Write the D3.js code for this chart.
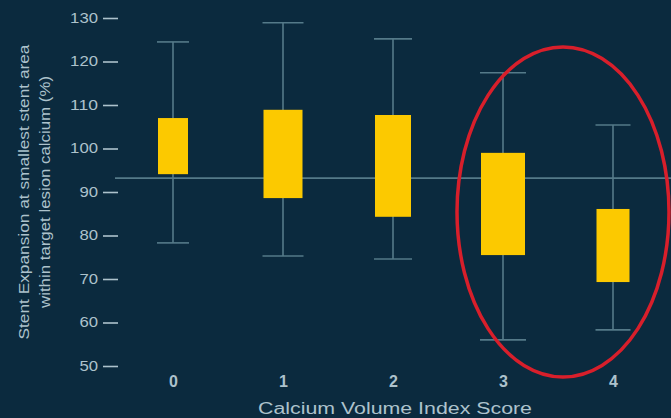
<!DOCTYPE html>
<html>
<head>
<meta charset="utf-8">
<script src="https://cdn.jsdelivr.net/npm/d3@7"></script>
<style>
  html, body { margin: 0; padding: 0; background: #0b2a3e; }
  svg { display: block; }
  text { font-family: "Liberation Sans", Arial, sans-serif; }
</style>
</head>
<body>
<svg id="chart" width="671" height="418"></svg>
<script>
// Calcium volume index score groups
const scores = ["0", "1", "2", "3", "4"];
// Box-and-whisker summary per score (% stent expansion)
const whiskerHigh = [124.5, 128.9, 125.2, 117.4, 105.4];
const boxHigh     = [107.0, 108.9, 107.7, 99.0, 86.1];
const boxLow      = [94.1, 88.6, 84.3, 75.5, 69.3];
const whiskerLow  = [78.3, 75.3, 74.6, 56.0, 58.3];
// Overall reference level
const referenceLevel = 93.2;
const yTicks = [50, 60, 70, 80, 90, 100, 110, 120, 130];

// Layout / styling
const W = 671, H = 418;
const boxWidth = [30, 39, 36, 44, 33];
const bg = "#0b2a3e";
const lineColor = "#557a89";
const textColor = "#adc2cc";
const boxColor = "#fcc900";

const svg = d3.select("#chart");
svg.append("rect").attr("width", W).attr("height", H).attr("fill", bg);

const x = d3.scalePoint().domain(scores).range([173, 613]);
const y = d3.scaleLinear().domain([50, 130]).range([366, 18]);

// Y axis: ticks with short dashes, no domain line
const yAxis = d3.axisLeft(y).tickValues(yTicks).tickSize(15).tickPadding(5);
const gy = svg.append("g").attr("transform", "translate(118,0)").call(yAxis);
gy.select(".domain").remove();
gy.selectAll(".tick line").attr("stroke", textColor).attr("stroke-width", 1.6);
gy.selectAll(".tick text").attr("fill", textColor).attr("font-size", 14)
  .attr("textLength", function(d) { return String(d).length * 9.3; })
  .attr("lengthAdjust", "spacingAndGlyphs");

// X axis: labels only
const xAxis = d3.axisBottom(x).tickSize(0).tickPadding(0);
const gx = svg.append("g").attr("transform", "translate(0,376)").call(xAxis);
gx.select(".domain").remove();
gx.selectAll(".tick text").attr("fill", textColor).attr("font-size", 16)
  .attr("font-weight", "bold");

// Reference line across the plot
svg.append("line")
  .attr("x1", 115).attr("x2", W)
  .attr("y1", y(referenceLevel)).attr("y2", y(referenceLevel))
  .attr("stroke", lineColor).attr("stroke-width", 1.6);

const data = scores.map((s, i) => ({
  s, w: boxWidth[i],
  wh: whiskerHigh[i], bh: boxHigh[i], bl: boxLow[i], wl: whiskerLow[i]
}));

const g = svg.append("g").selectAll("g").data(data).join("g");

// Whisker stems
g.append("line")
  .attr("x1", d => x(d.s)).attr("x2", d => x(d.s))
  .attr("y1", d => y(d.wh)).attr("y2", d => y(d.wl))
  .attr("stroke", lineColor).attr("stroke-width", 1.6);
// Whisker caps
["wh", "wl"].forEach(k => {
  g.append("line")
    .attr("x1", d => x(d.s) - d.w / 2 - 1).attr("x2", d => x(d.s) + d.w / 2 + 1)
    .attr("y1", d => y(d[k])).attr("y2", d => y(d[k]))
    .attr("stroke", lineColor).attr("stroke-width", 1.6);
});
// Boxes
g.append("rect")
  .attr("x", d => x(d.s) - d.w / 2)
  .attr("width", d => d.w)
  .attr("y", d => y(d.bh))
  .attr("height", d => y(d.bl) - y(d.bh))
  .attr("fill", boxColor);

// Highlight around scores 3 and 4
svg.append("ellipse")
  .attr("cx", (x("3") + x("4")) / 2 + 5)
  .attr("cy", 212)
  .attr("rx", 106).attr("ry", 165)
  .attr("fill", "none")
  .attr("stroke", "#d81f2b").attr("stroke-width", 3.5);

// Axis titles
svg.append("text")
  .attr("x", 395).attr("y", 414)
  .attr("text-anchor", "middle")
  .attr("fill", textColor).attr("font-size", 16)
  .attr("textLength", 274).attr("lengthAdjust", "spacingAndGlyphs")
  .text("Calcium Volume Index Score");

const yt = svg.append("text")
  .attr("transform", "translate(0,192) rotate(-90)")
  .attr("text-anchor", "middle")
  .attr("fill", textColor).attr("font-size", 14);
yt.append("tspan").attr("x", 0).attr("y", 29)
  .attr("textLength", 295).attr("lengthAdjust", "spacingAndGlyphs")
  .text("Stent Expansion at smallest stent area");
yt.append("tspan").attr("x", 0).attr("y", 50)
  .attr("textLength", 232).attr("lengthAdjust", "spacingAndGlyphs")
  .text("within target lesion calcium (%)");
</script>
</body>
</html>
